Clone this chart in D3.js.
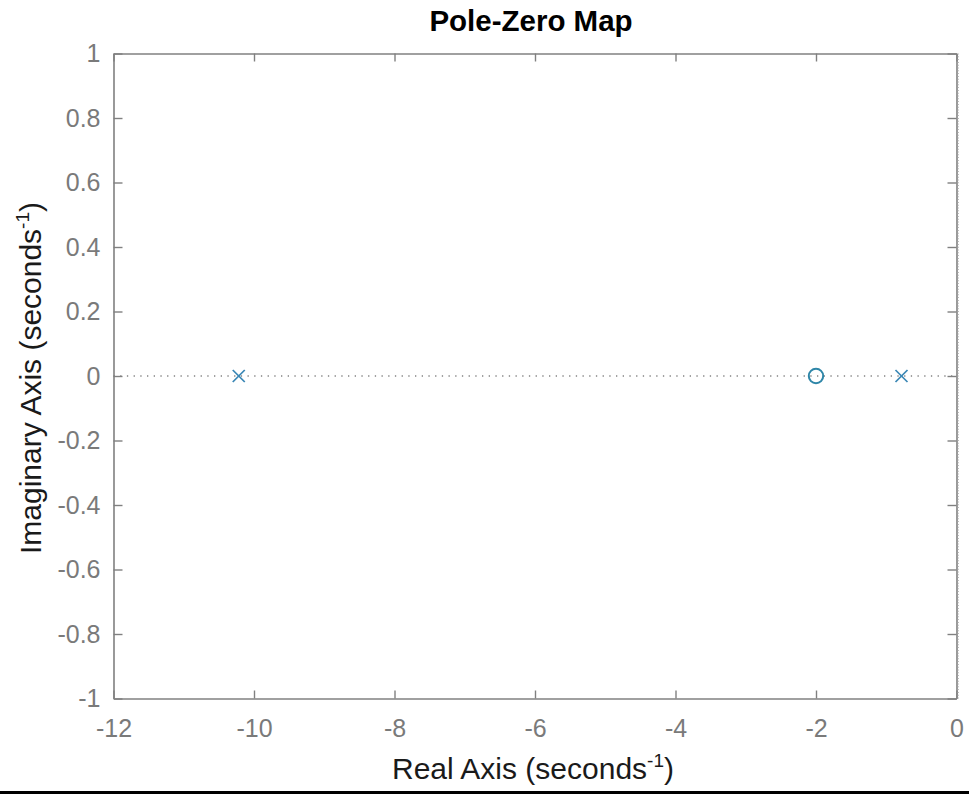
<!DOCTYPE html>
<html><head><meta charset="utf-8">
<script src="https://cdn.jsdelivr.net/npm/d3@7"></script>
<style>body{margin:0;background:#fff;} svg{display:block;}</style>
</head><body>
<script>
const xTicks = [-12, -10, -8, -6, -4, -2, 0];
const xTickLabels = ["-12", "-10", "-8", "-6", "-4", "-2", "0"];
const yTicks = [-1, -0.8, -0.6, -0.4, -0.2, 0, 0.2, 0.4, 0.6, 0.8, 1];
const yTickLabels = ["-1", "-0.8", "-0.6", "-0.4", "-0.2", "0", "0.2", "0.4", "0.6", "0.8", "1"];
const poleRe = [-10.217, -0.783];
const poleIm = [0, 0];
const zeroRe = [-2];
const zeroIm = [0];
const titleText = "Pole-Zero Map";

const W = 969, H = 794;
const L = 113.5, R = 956.5, T = 53.5, B = 698.5;
const svg = d3.select("body").append("svg").attr("width", W).attr("height", H);
svg.append("rect").attr("width", W).attr("height", H).attr("fill", "#fff");

const x = d3.scaleLinear().domain([-12, 0]).range([L, R]);
const y = d3.scaleLinear().domain([-1, 1]).range([B, T]);
const axisCol = "#808080";
const font = "'Liberation Sans', Arial, Helvetica, sans-serif";

// zero line (dotted)
svg.append("line").attr("x1", L).attr("x2", R).attr("y1", y(0)).attr("y2", y(0))
  .attr("stroke", "#444").attr("stroke-width", 1.2).attr("stroke-dasharray", "1.3,5.4");

// axes
const gx = svg.append("g").attr("transform", `translate(0,${B})`)
  .call(d3.axisBottom(x).tickValues(xTicks).tickSizeInner(-8).tickSizeOuter(0).tickPadding(21)
    .tickFormat((d, i) => xTickLabels[i]));
const gxt = svg.append("g").attr("transform", `translate(0,${T})`)
  .call(d3.axisTop(x).tickValues(xTicks).tickSizeInner(-8).tickSizeOuter(0).tickFormat(""));
const gy = svg.append("g").attr("transform", `translate(${L},0)`)
  .call(d3.axisLeft(y).tickValues(yTicks).tickSizeInner(-9).tickSizeOuter(0).tickPadding(13)
    .tickFormat((d, i) => yTickLabels[i]));
const gyr = svg.append("g").attr("transform", `translate(${R},0)`)
  .call(d3.axisRight(y).tickValues(yTicks).tickSizeInner(-9).tickSizeOuter(0).tickFormat(""));

[gx, gxt, gy, gyr].forEach(g => {
  g.selectAll("path.domain").attr("stroke", axisCol).attr("stroke-width", 1.6);
  g.selectAll(".tick line").attr("stroke", axisCol).attr("stroke-width", 1.4);
  g.selectAll(".tick text").attr("fill", "#7a7a7a").attr("font-family", font).attr("font-size", 25);
});

// faint dotted minor marks outside right border
svg.append("line").attr("x1", R + 1.8).attr("x2", R + 1.8).attr("y1", T).attr("y2", B)
  .attr("stroke", "#b5b5b5").attr("stroke-width", 1.2).attr("stroke-dasharray", "1,1.8");

// markers
const mcol = "#3a87b5";
const s = 6;
const poles = poleRe.map((r, i) => ({re: r, im: poleIm[i]}));
const pg = svg.append("g").selectAll("g").data(poles).join("g")
  .attr("transform", d => `translate(${x(d.re)},${y(d.im)})`);
pg.append("line").attr("x1", -s).attr("y1", -s).attr("x2", s).attr("y2", s).attr("stroke", mcol).attr("stroke-width", 1.7);
pg.append("line").attr("x1", -s).attr("y1", s).attr("x2", s).attr("y2", -s).attr("stroke", mcol).attr("stroke-width", 1.7);

const zeros = zeroRe.map((r, i) => ({re: r, im: zeroIm[i]}));
svg.append("g").selectAll("circle").data(zeros).join("circle")
  .attr("cx", d => x(d.re)).attr("cy", d => y(d.im)).attr("r", 7.2)
  .attr("fill", "none").attr("stroke", "#2e86a8").attr("stroke-width", 2);

// title
svg.append("text").attr("x", 531).attr("y", 31).attr("text-anchor", "middle")
  .attr("font-family", font).attr("font-weight", "bold").attr("font-size", 29.5).attr("fill", "#000")
  .text(titleText);

// x label
const xl = svg.append("text").attr("x", 533).attr("y", 779).attr("text-anchor", "middle")
  .attr("font-family", font).attr("font-size", 30).attr("fill", "#1a1a1a");
xl.append("tspan").text("Real Axis (seconds");
xl.append("tspan").attr("dy", -12).attr("font-size", 19).text("-1");
xl.append("tspan").attr("dy", 12).text(")");

// y label
const yl = svg.append("text").attr("transform", `translate(41,${(T + B) / 2 + 2}) rotate(-90)`).attr("text-anchor", "middle")
  .attr("font-family", font).attr("font-size", 30).attr("fill", "#1a1a1a");
yl.append("tspan").text("Imaginary Axis (seconds");
yl.append("tspan").attr("dy", -12).attr("font-size", 19).text("-1");
yl.append("tspan").attr("dy", 12).text(")");

// bottom black bar
svg.append("rect").attr("x", 0).attr("y", 791).attr("width", W).attr("height", 3).attr("fill", "#000");
</script>
</body></html>
